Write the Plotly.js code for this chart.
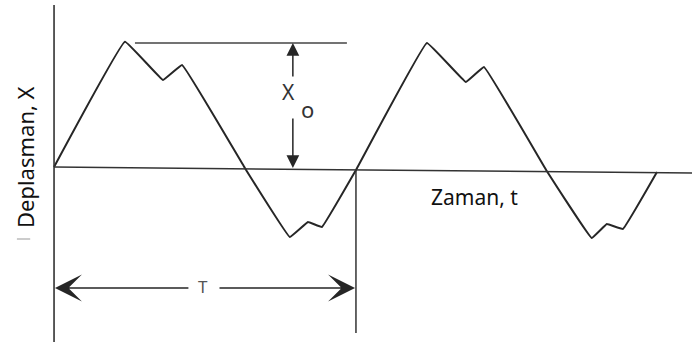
<!DOCTYPE html>
<html>
<head>
<meta charset="utf-8">
<script src="https://cdn.plot.ly/plotly-3.0.1.min.js"></script>
<style>html,body{margin:0;padding:0;background:#fff;}#chart{width:692px;height:347px;}</style>
</head>
<body>
<div id="chart"></div>
<script>
// Schematic units: period T = 10, amplitude Xo = 10
var T_PERIOD = 10;
var X_AMP = 10;

// Waveform (time t, displacement X)
var waveT = [0, 2.35, 3.61, 4.24, 6.32, 7.81, 8.41, 8.87, 10.0, 12.35, 13.64, 14.24, 16.32, 17.81, 18.31, 18.84, 19.97];
var waveX = [0.08, 10.1, 7.04, 8.24, 0.0, -5.52, -4.32, -4.72, -0.16, 10.0, 6.88, 8.08, -0.24, -5.6, -4.48, -4.88, -0.32];

// Labels
var yLabel = 'Deplasman, X';
var xLabel = 'Zaman, t';
var ampLabel = 'X';
var ampSub = 'o';
var periodLabel = 'T';

var xr = [-1.79, 21.13];
var yr = [-14.32, 13.44];
var ink = '#262626';

var trace = {
  x: waveT, y: waveX, type: 'scatter', mode: 'lines',
  line: {color: ink, width: 2, shape: 'spline', smoothing: 0.18},
  hoverinfo: 'skip'
};

var shapes = [
  // vertical axis
  {type: 'line', x0: 0, x1: 0, y0: 13.04, y1: -13.92, line: {color: '#333', width: 1.6}},
  // horizontal axis (slightly tilted as in the scan)
  {type: 'line', x0: 0, x1: xr[1], y0: 0.08, y1: -0.4, line: {color: '#333', width: 1.5}},
  // amplitude reference line
  {type: 'line', x0: 2.68, x1: 9.70, y0: X_AMP, y1: X_AMP, line: {color: '#444', width: 1.5}},
  // period end marker
  {type: 'line', x0: T_PERIOD, x1: T_PERIOD, y0: -0.16, y1: -13.2, line: {color: '#333', width: 1.5}},
  // small dash near label
  {type: 'line', x0: -1.23, x1: -0.79, y0: -5.68, y1: -5.68, line: {color: '#999', width: 1}}
];

function arrow(x, y, ax, ay, head, size) {
  return {x: x, y: y, ax: ax, ay: ay, xref: 'x', yref: 'y', axref: 'x', ayref: 'y',
    text: '', showarrow: true, arrowhead: head, arrowsize: size, arrowwidth: 1.5,
    arrowcolor: ink, standoff: 0, startstandoff: 0};
}

var annotations = [
  arrow(7.91, X_AMP, 7.91, 7.2, 2, 1.7),
  arrow(7.91, 0, 7.91, 4.08, 2, 1.7),
  arrow(0.03, -9.6, 4.5, -9.6, 3, 3),
  arrow(9.97, -9.6, 5.43, -9.6, 3, 3),
  {x: -0.96, y: 0.88, text: yLabel, showarrow: false, textangle: -90,
   font: {family: 'Noto Sans', size: 22, color: '#111'}, xanchor: 'center', yanchor: 'middle'},
  {x: 13.91, y: -2.32, text: xLabel, showarrow: false,
   font: {family: 'Noto Sans', size: 21, color: '#111'}, xanchor: 'center', yanchor: 'middle'},
  {x: 7.78, y: 6.08, text: ampLabel, showarrow: false,
   font: {family: 'Noto Sans', size: 21, color: '#333'}, xanchor: 'center', yanchor: 'middle'},
  {x: 8.38, y: 4.72, text: ampSub, showarrow: false,
   font: {family: 'Noto Sans', size: 22, color: '#333'}, xanchor: 'center', yanchor: 'middle'},
  {x: 4.93, y: -9.44, text: periodLabel, showarrow: false,
   font: {family: 'Noto Sans', size: 17, color: '#555'}, xanchor: 'center', yanchor: 'middle'}
];

var layout = {
  width: 692, height: 347,
  margin: {l: 0, r: 0, t: 0, b: 0},
  paper_bgcolor: '#fff', plot_bgcolor: '#fff',
  showlegend: false,
  xaxis: {range: xr, visible: false, fixedrange: true},
  yaxis: {range: yr, visible: false, fixedrange: true},
  shapes: shapes,
  annotations: annotations
};

Plotly.newPlot('chart', [trace], layout, {displayModeBar: false, staticPlot: true});
</script>
</body>
</html>
